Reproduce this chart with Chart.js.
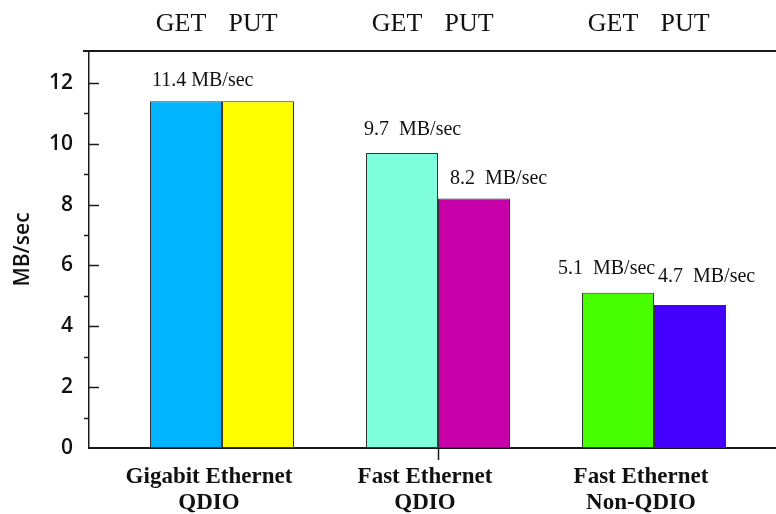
<!DOCTYPE html>
<html>
<head>
<meta charset="utf-8">
<script src="https://cdn.jsdelivr.net/npm/chart.js@4/dist/chart.umd.min.js"></script>
<style>
  html, body { margin: 0; padding: 0; background: #ffffff; }
  #wrap { width: 776px; height: 514px; position: relative; }
</style>
</head>
<body>
<div id="wrap"><canvas id="chart" width="776" height="514"></canvas></div>
<script>
// Throughput by interface type, GET vs PUT
const categories = [
  ['Gigabit Ethernet', 'QDIO'],
  ['Fast Ethernet', 'QDIO'],
  ['Fast Ethernet', 'Non-QDIO']
];
const seriesNames = ['GET', 'PUT'];
const getValues = [11.4, 9.7, 5.1];
const putValues = [11.4, 8.2, 4.7];
const getColors = ['#00b4ff', '#80ffdc', '#48ff00'];
const putColors = ['#ffff00', '#c800aa', '#4400ff'];
// which bars carry a value label
const getLabelShown = [true, true, true];
const putLabelShown = [false, true, true];
const yTicks = [0, 2, 4, 6, 8, 10, 12];
const yMinorTicks = [1, 3, 5, 7, 9, 11];
const unit = 'MB/sec';

const serif = '"Liberation Serif", "Times New Roman", serif';
const sans = '"Open Sans", "DejaVu Sans", sans-serif';

// label nudges (px) relative to the bar's left edge / top
const labelNudge = {
  0: { dx: [2, -2, -24], dy: [20, 23, 24] },
  1: { dx: [0, 12, 4], dy: [0, 20, 28] }
};

const annotate = {
  id: 'annotate',
  afterDatasetsDraw(chart) {
    const { ctx, chartArea, scales } = chart;
    const y = scales.y, x = scales.x;
    ctx.save();
    ctx.strokeStyle = '#1a1a1a';
    // top frame line
    ctx.lineWidth = 2;
    ctx.beginPath();
    ctx.moveTo(83, chartArea.top);
    ctx.lineTo(chartArea.right, chartArea.top);
    ctx.stroke();
    // inner major ticks
    ctx.lineWidth = 1.5;
    yTicks.forEach(v => {
      if (v === 0) return;
      const py = Math.round(y.getPixelForValue(v)) + 0.5;
      ctx.beginPath();
      ctx.moveTo(chartArea.left, py);
      ctx.lineTo(chartArea.left + 10, py);
      ctx.stroke();
    });
    // outer minor ticks
    yMinorTicks.forEach(v => {
      const py = Math.round(y.getPixelForValue(v)) + 0.5;
      ctx.beginPath();
      ctx.moveTo(chartArea.left - 5, py);
      ctx.lineTo(chartArea.left, py);
      ctx.stroke();
    });
    // tick below the middle group
    const mx = Math.round(x.getPixelForValue(1)) + 0.5;
    ctx.beginPath();
    ctx.moveTo(mx, chartArea.bottom);
    ctx.lineTo(mx, chartArea.bottom + 12);
    ctx.stroke();

    // series names above each bar, value labels above bars
    ctx.fillStyle = '#111';
    chart.data.datasets.forEach((ds, di) => {
      const meta = chart.getDatasetMeta(di);
      meta.data.forEach((bar, i) => {
        ctx.font = '26px ' + serif;
        ctx.textAlign = 'center';
        ctx.textBaseline = 'middle';
        ctx.fillText(ds.label, bar.x - 5, 24);
        if (ds.showLabel[i]) {
          const v = ds.data[i].y;
          const sep = di === 0 && i === 0 ? ' ' : '  ';
          ctx.font = '20px ' + serif;
          ctx.textAlign = 'left';
          ctx.fillText(v.toFixed(1) + sep + unit,
            bar.x - bar.width / 2 + labelNudge[di].dx[i],
            bar.y - labelNudge[di].dy[i]);
        }
      });
    });
    ctx.restore();
  }
};

const toPoints = vals => vals.map((v, i) => ({ x: i, y: v }));

new Chart(document.getElementById('chart'), {
  type: 'bar',
  data: {
    datasets: [
      {
        label: seriesNames[0],
        data: toPoints(getValues),
        backgroundColor: getColors,
        borderColor: '#333',
        borderWidth: 1,
        borderSkipped: false,
        showLabel: getLabelShown
      },
      {
        label: seriesNames[1],
        data: toPoints(putValues),
        backgroundColor: putColors,
        borderColor: '#333',
        borderWidth: 1,
        borderSkipped: false,
        showLabel: putLabelShown
      }
    ]
  },
  options: {
    responsive: false,
    animation: false,
    devicePixelRatio: 1,
    layout: { padding: { top: 51, left: 0, right: 0, bottom: 0 } },
    categoryPercentage: 2 / 3,
    barPercentage: 1,
    plugins: {
      legend: { display: false },
      tooltip: { enabled: false }
    },
    scales: {
      x: {
        type: 'linear',
        offset: false,
        min: -0.6157,
        max: 2.5648,
        grid: { display: false },
        border: { display: true, color: '#1a1a1a', width: 2 },
        afterBuildTicks: s => { s.ticks = categories.map((c, i) => ({ value: i })); },
        afterFit: s => { s.height = 66; },
        ticks: {
          autoSkip: false,
          maxRotation: 0,
          padding: 8,
          labelOffset: -13,
          color: '#111',
          font: { family: serif, size: 23, weight: 'bold', lineHeight: 1.13 },
          callback: v => categories[v]
        }
      },
      y: {
        min: 0,
        max: 13.05,
        grid: { display: false },
        border: { display: true, color: '#1a1a1a', width: 1.5 },
        afterBuildTicks: s => { s.ticks = yTicks.map(v => ({ value: v })); },
        afterFit: s => { s.width = 89; },
        ticks: {
          padding: 8,
          color: '#111',
          font: { family: sans, size: 21, weight: '600' }
        },
        title: {
          display: true,
          text: unit,
          color: '#111',
          padding: { top: 10, bottom: 0 },
          font: { family: sans, size: 21, weight: '600' }
        }
      }
    }
  },
  plugins: [annotate]
});
</script>
</body>
</html>
